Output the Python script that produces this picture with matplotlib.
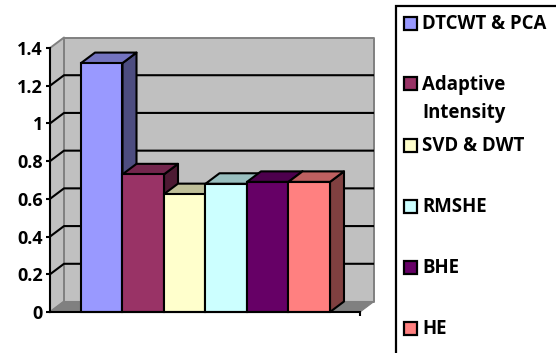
import matplotlib
matplotlib.use("Agg")
import matplotlib.pyplot as plt
from matplotlib.patches import Polygon, Rectangle
from matplotlib.colors import to_rgb

methods = ["DTCWT & PCA", "Adaptive\nIntensity", "SVD & DWT", "RMSHE", "BHE", "HE"]
values = [1.32, 0.73, 0.625, 0.68, 0.69, 0.69]
colors = ["#9999FF", "#993366", "#FFFFCC", "#CCFFFF", "#660066", "#FF8080"]
yticks = [0, 0.2, 0.4, 0.6, 0.8, 1, 1.2, 1.4]
yticklabels = ["0", "0.2", "0.4", "0.6", "0.8", "1", "1.2", "1.4"]

W, H = 556, 353
plt.rcParams['font.family'] = ['Open Sans', 'DejaVu Sans']
fig = plt.figure(figsize=(W/100, H/100), dpi=100)
ax = fig.add_axes([50/W, 1-312/H, 310/W, 264/H])

# one category is one unit wide on x
x0 = -1.247
x1 = 6.223
ax.set_xlim(x0, x1)
ax.set_ylim(0, 1.4)
# depth of the fake 3d box, in data units
dx = 14/41.5
dy = 10.5/188.6
edge = 1.5

def poly(pts, fc, z, ec="black", lw=edge):
    ax.add_patch(Polygon(pts, closed=True, fc=fc, ec=ec, lw=lw, zorder=z,
                         clip_on=False, joinstyle="round"))

def shade(c, f):
    return tuple(v*f for v in to_rgb(c))

# walls and floor
poly([(x0+dx, dy), (x1+dx, dy), (x1+dx, 1.4+dy), (x0+dx, 1.4+dy)], "#C0C0C0", 1, "#808080", 1.4)
poly([(x0, 0), (x0+dx, dy), (x0+dx, 1.4+dy), (x0, 1.4)], "#C0C0C0", 1, "#808080", 1.4)
poly([(x0, 0), (x1, 0), (x1+dx, dy), (x0+dx, dy)], "#808080", 1, "#808080", 0.8)

# gridlines on back and side wall
for t in yticks[1:-1]:
    ax.plot([x0, x0+dx, x1+dx], [t, t+dy, t+dy], color="black", lw=edge, zorder=2,
            clip_on=False, solid_capstyle="butt")

# bars, left to right so each covers the side of the one before
for i, (v, c) in enumerate(zip(values, colors)):
    l, r = i-0.5, i+0.5
    z = 3+i
    poly([(r, 0), (r+dx, dy), (r+dx, v+dy), (r, v)], shade(c, 0.5), z)
    poly([(l, v), (r, v), (r+dx, v+dy), (l+dx, v+dy)], shade(c, 0.75), z)
    ax.add_patch(Rectangle((l, 0), 1, v, fc=c, ec="black", lw=edge, zorder=z,
                           clip_on=False))

# axis lines
for s in ["top", "right"]:
    ax.spines[s].set_visible(False)
for s in ["left", "bottom"]:
    ax.spines[s].set_linewidth(edge)
    ax.spines[s].set_zorder(20)
ax.patch.set_visible(False)
ax.set_xticks([x1])
ax.set_xticklabels([""])
ax.set_yticks(yticks)
ax.set_yticklabels(yticklabels, fontsize=13, fontweight="bold")
ax.tick_params(axis="y", length=3, width=edge, pad=2, colors="black")
ax.tick_params(axis="x", length=3, width=edge)

# legend box runs off the right and bottom edges
fig.add_artist(Rectangle((395.5/W, -0.02), 0.4, 1-5.5/H+0.02, transform=fig.transFigure,
                         fc="white", ec="black", lw=1.6))
swatch_y = [23.5, 84, 145.5, 206.5, 267, 328]
label_y = [24, 99, 146, 207, 268, 329]
for name, c, sy, ly in zip(methods, colors, swatch_y, label_y):
    fig.add_artist(Rectangle((403.5/W, 1-(sy+6.5)/H), 13/W, 13/H, transform=fig.transFigure,
                             fc=c, ec="black", lw=1.6))
    fig.text(422.5/W, 1-ly/H, name, fontsize=13.4, fontweight="bold", va="center", ha="left",
             linespacing=1.55)

fig.savefig("out.png", dpi=100)
